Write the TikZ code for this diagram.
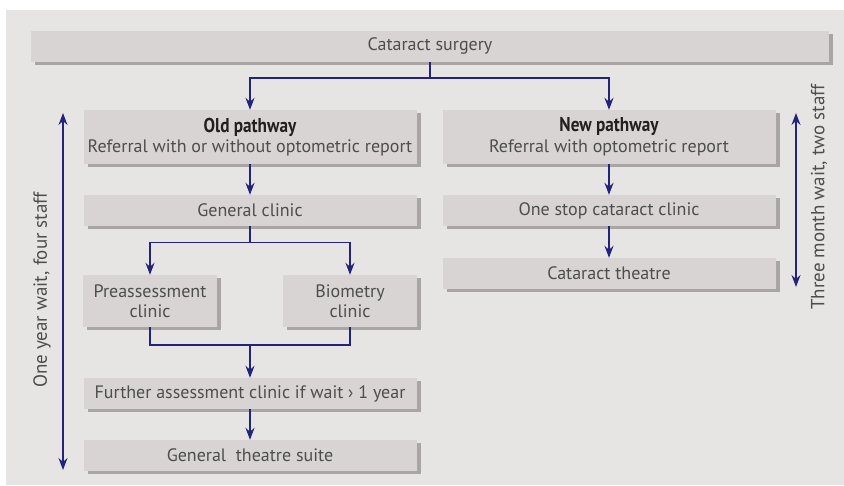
\documentclass[tikz,border=0pt]{standalone}
\usepackage{fontspec}
\setmainfont{PT Sans}
\newfontfamily\headfont{PT Sans}[FakeStretch=0.86]
\usetikzlibrary{arrows.meta,shadows}

\definecolor{panelColor}{RGB}{230,229,228}
\definecolor{boxColor}{RGB}{216,212,211}
\definecolor{shadowColor}{RGB}{169,165,164}
\definecolor{lineColor}{RGB}{35,35,122}
\definecolor{textColor}{RGB}{77,77,77}
\definecolor{headColor}{RGB}{35,31,32}

\tikzset{
  navytip/.tip={Stealth[length=12pt,width=9pt,inset=4pt]},
  box/.style={fill=boxColor, text=textColor, inner sep=0pt, align=center,
    minimum height=31pt, font=\fontsize{18}{20.5}\selectfont,
    drop shadow={shadow xshift=4pt,shadow yshift=-3pt,fill=shadowColor,opacity=1}},
  wide/.style={minimum width=333pt},
  link/.style={draw=lineColor, line width=1.6pt},
  arr/.style={link, -navytip},
  side/.style={rotate=90, text=textColor, inner sep=0pt, font=\fontsize{19}{21}\selectfont},
}
\newcommand{\headline}[1]{{\headfont\bfseries\fontsize{20}{21}\selectfont\color{headColor}#1}}

\begin{document}
\begin{tikzpicture}[x=1pt,y=1pt]
\useasboundingbox (0,0) rectangle (844,485);
\fill[panelColor] (6,0) rectangle (844,475);

% boxes
\node[box,minimum width=798pt] (surgery) at (430,438.5) {Cataract surgery};
\node[box,wide,minimum height=54pt] (oldp) at (250,348) {\headline{Old pathway}\\Referral with or without optometric report};
\node[box,wide,minimum height=54pt] (newp) at (609,348) {\headline{New pathway}\\Referral with optometric report};
\node[box,wide] (genclinic) at (250,274.5) {General clinic};
\node[box,wide] (onestop) at (609,274.5) {One stop cataract clinic};
\node[box,wide] (cattheatre) at (609,211.5) {Cataract theatre};
\node[box,minimum width=134pt,minimum height=52pt] (preassess) at (150,184) {Preassessment\\clinic};
\node[box,minimum width=134pt,minimum height=52pt] (biometry) at (350,184) {Biometry\\clinic};
\node[box,wide] (further) at (250,91.5) {Further assessment clinic if wait › 1 year};
\node[box,wide] (suite) at (250,29.5) {General\ \ theatre suite};

% connectors
\coordinate (split1) at (430,407);
\coordinate (split2) at (250,242.5);
\coordinate (merge) at (250,140);
\draw[link] (surgery.south) -- (split1);
\draw[arr] (split1) -| (oldp.north);
\draw[arr] (split1) -| (newp.north);
\draw[arr] (oldp) -- (genclinic);
\draw[link] (genclinic.south) -- (split2);
\draw[arr] (split2) -| (preassess.north);
\draw[arr] (split2) -| (biometry.north);
\draw[link] (preassess.south) |- (merge) -| (biometry.south);
\draw[arr] (merge) -- (further.north);
\draw[arr] (further) -- (suite);
\draw[arr] (newp) -- (onestop);
\draw[arr] (onestop) -- (cattheatre);

% waiting times
\coordinate (oldtop) at (63,372);
\coordinate (oldbot) at (63,15);
\coordinate (newtop) at (796,372);
\coordinate (newbot) at (796,198);
\draw[link,navytip-navytip] (oldtop) -- (oldbot);
\draw[link,navytip-navytip] (newtop) -- (newbot);
\node[side] (oldwait) at (42,195) {One year wait, four staff};
\node[side] (newwait) at (819,288) {Three month wait, two staff};
\end{tikzpicture}
\end{document}
